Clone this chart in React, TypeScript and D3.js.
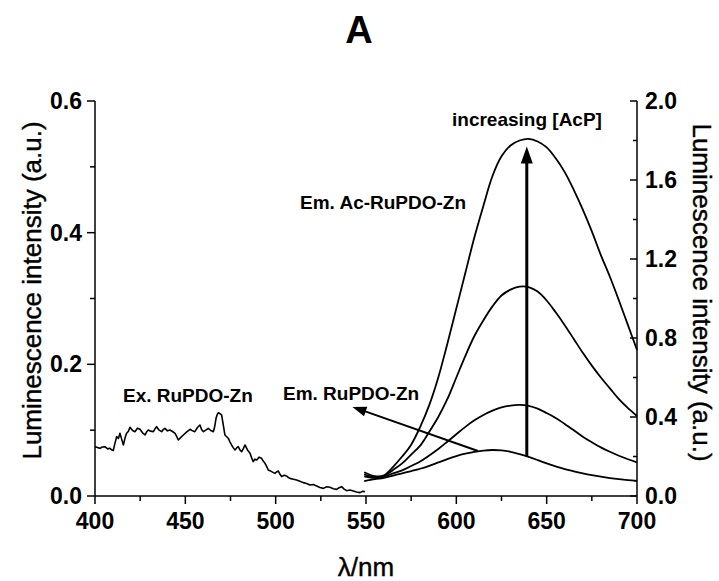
import React from "react";
import * as d3 from "d3";

// Excitation spectrum of RuPDO-Zn (left axis)
const exWavelength = [
  400, 401.5, 402.8, 404, 405.5, 407, 408.3, 409.2, 410.1, 411, 412, 413, 413.8, 414.8, 415.7, 416.6, 417.5, 418.5, 419.4,
  420.8, 422.1, 423.5, 424.9, 426.3, 427.7, 428.6, 429.5, 430.9, 432.3, 433.2, 434.1, 435.5, 436.9, 437.8, 438.7, 440.1,
  441.5, 442.9, 444.3, 445.2, 446.1, 447.5, 448.9, 450.8, 452.6, 454, 455.3, 456.7, 458.1, 459, 460, 461.3, 462.7, 464.1,
  465.5, 466.3, 467, 467.7, 468.3, 469.2, 470.1, 471, 471.9, 472.9, 473.8, 474.7, 475.6, 476.5, 477.5, 478.4, 479.3, 480.2,
  481.2, 482.1, 483, 484.4, 485.8, 486.7, 487.6, 488.5, 489.5, 490.8, 492.2, 493.1, 494.1, 495, 495.9, 496.8, 497.8, 498.7,
  499.6, 500.5, 501.5, 502.4, 503.3, 504.7, 506.1, 507, 507.9, 509.8, 511.6, 513.4, 515.3, 517.1, 519, 520.8, 522.7, 524.5,
  526.4, 528.2, 530, 531.9, 533.7, 535.1, 536.5, 537.9, 539.3, 541.1, 543, 544.8, 546.7, 548, 549.4,
];
const exIntensity = [
  0.0749, 0.0735, 0.0724, 0.0745, 0.0749, 0.0716, 0.0724, 0.0702, 0.0689, 0.0795, 0.0901, 0.0875, 0.0952, 0.086, 0.0775,
  0.088, 0.0952, 0.0985, 0.1043, 0.0995, 0.0977, 0.103, 0.1013, 0.096, 0.0927, 0.0975, 0.1003, 0.0985, 0.0977, 0.102,
  0.1053, 0.1, 0.0977, 0.101, 0.1028, 0.099, 0.1003, 0.098, 0.0952, 0.0905, 0.0851, 0.089, 0.0927, 0.0975, 0.1013,
  0.099, 0.0977, 0.104, 0.1078, 0.101, 0.0977, 0.1, 0.1028, 0.0995, 0.0977, 0.106, 0.118, 0.124, 0.1266, 0.125,
  0.123, 0.108, 0.0927, 0.09, 0.0876, 0.082, 0.0775, 0.0735, 0.0699, 0.073, 0.0749, 0.07, 0.0673, 0.072, 0.0775,
  0.07, 0.0648, 0.058, 0.0522, 0.056, 0.0547, 0.059, 0.0572, 0.053, 0.0496, 0.045, 0.0395, 0.0385, 0.037, 0.0355,
  0.0344, 0.0365, 0.038, 0.033, 0.0294, 0.0315, 0.0304, 0.028, 0.0268, 0.0255, 0.0243, 0.0225, 0.0203, 0.019, 0.0167,
  0.0175, 0.0152, 0.013, 0.0116, 0.014, 0.0132, 0.011, 0.0101, 0.0125, 0.0142, 0.0105, 0.0081, 0.009, 0.0076, 0.006,
  0.0051, 0.007, 0.0066,
];

// Emission spectra (right axis): RuPDO-Zn and increasing [AcP]
const emWavelength = [
  549, 555, 560, 565, 570, 575, 580, 585, 590, 595, 600, 605, 610, 615, 620, 625, 630, 635, 640, 645, 650, 655, 660, 665,
  670, 675, 680, 685, 690, 695, 700,
];
const emRuPDO = [
  0.075, 0.085, 0.092, 0.103, 0.115, 0.126, 0.138, 0.153, 0.17, 0.187, 0.202, 0.214, 0.223, 0.23, 0.233, 0.231, 0.224,
  0.212, 0.198, 0.182, 0.165, 0.15, 0.136, 0.125, 0.115, 0.106, 0.098, 0.091, 0.085, 0.08, 0.076,
];
const emAcP1 = [
  0.1, 0.092, 0.097, 0.115, 0.13, 0.152, 0.175, 0.205, 0.238, 0.275, 0.313, 0.35, 0.383, 0.41, 0.432, 0.449, 0.458,
  0.461, 0.456, 0.442, 0.42, 0.395, 0.365, 0.333, 0.3, 0.272, 0.246, 0.224, 0.204, 0.186, 0.17,
];
const emAcP2 = [
  0.11, 0.095, 0.1, 0.132, 0.165, 0.21, 0.255, 0.325, 0.4, 0.49, 0.6, 0.71, 0.81, 0.89, 0.96, 1.015, 1.045, 1.06, 1.058,
  1.035, 0.99, 0.93, 0.865, 0.795, 0.725, 0.66, 0.6, 0.545, 0.49, 0.445, 0.405,
];
const emAcP3 = [
  0.12, 0.1, 0.105, 0.148, 0.2, 0.26, 0.35, 0.46, 0.6, 0.77, 0.95, 1.13, 1.31, 1.47, 1.62, 1.72, 1.775, 1.8, 1.808,
  1.795, 1.765, 1.71, 1.64, 1.55, 1.45, 1.34, 1.22, 1.11, 0.99, 0.865, 0.74,
];

// Axis ticks
const xMajor = [400, 450, 500, 550, 600, 650, 700];
const xMinor = [425, 475, 525, 575, 625, 675];
const yLeftMajor = [0, 0.2, 0.4, 0.6];
const yLeftMinor = [0.1, 0.3, 0.5];
const yRightMajor = [0, 0.4, 0.8, 1.2, 1.6, 2.0];
const yRightMinor = [0.2, 0.6, 1.0, 1.4, 1.8];

// Arrows: [wavelength, right-axis value]
const acpArrow: [number, number][] = [
  [639, 0.2],
  [639, 1.77],
];
const emArrow: [number, number][] = [
  [612, 0.228],
  [542.5, 0.451],
];

const FONT = "Arial, 'Liberation Sans', sans-serif";

export default function App() {
  const W = 719;
  const H = 581;
  const left = 95;
  const right = 637;
  const top = 101;
  const bottom = 496;

  const x = d3.scaleLinear().domain([400, 700]).range([left, right]);
  const yL = d3.scaleLinear().domain([0, 0.6]).range([bottom, top]);
  const yR = d3.scaleLinear().domain([0, 2.0]).range([bottom, top]);

  const exLine = d3
    .line<number>()
    .x((_, i) => x(exWavelength[i]))
    .y((d) => yL(d));

  const emLine = d3
    .line<number>()
    .x((_, i) => x(emWavelength[i]))
    .y((d) => yR(d))
    .curve(d3.curveCatmullRom.alpha(0.5));

  const arrow = (pts: [number, number][], width: number, headLen: number, headHalf: number) => {
    const [x0, y0] = [x(pts[0][0]), yR(pts[0][1])];
    const [x1, y1] = [x(pts[1][0]), yR(pts[1][1])];
    const dx = x1 - x0;
    const dy = y1 - y0;
    const len = Math.hypot(dx, dy);
    const ux = dx / len;
    const uy = dy / len;
    const bx = x1 - ux * headLen;
    const by = y1 - uy * headLen;
    const px = -uy;
    const py = ux;
    const head = `M${x1},${y1}L${bx + px * headHalf},${by + py * headHalf}L${bx - px * headHalf},${by - py * headHalf}Z`;
    return (
      <g>
        <line x1={x0} y1={y0} x2={bx + ux * 2} y2={by + uy * 2} stroke="#000" strokeWidth={width} />
        <path d={head} fill="#000" />
      </g>
    );
  };

  const tickFont = { fontFamily: FONT, fontWeight: 700, fontSize: 23 };
  const noteFont = { fontFamily: FONT, fontWeight: 700, fontSize: 19 };
  const titleFont = { fontFamily: FONT, fontSize: 26 };

  return (
    <svg width={W} height={H} style={{ position: "absolute", left: 0, top: 0, background: "#fff" }}>
      <rect width={W} height={H} fill="#fff" />
      <text x={359} y={43} textAnchor="middle" style={{ fontFamily: FONT, fontWeight: 700, fontSize: 38 }}>
        A
      </text>

      {/* curves */}
      <path d={exLine(exIntensity) || ""} fill="none" stroke="#000" strokeWidth={1.6} strokeLinejoin="round" />
      {[emRuPDO, emAcP1, emAcP2, emAcP3].map((s, i) => (
        <path key={i} d={emLine(s) || ""} fill="none" stroke="#000" strokeWidth={1.8} />
      ))}

      {/* arrows */}
      {arrow(acpArrow, 3, 17, 6)}
      {arrow(emArrow, 2, 14, 5)}

      {/* axes */}
      <g stroke="#000" strokeWidth={1.5}>
        <line x1={left} y1={bottom} x2={right} y2={bottom} />
        <line x1={left} y1={top} x2={left} y2={bottom} />
        <line x1={right} y1={top} x2={right} y2={bottom} />
        {xMajor.map((v) => (
          <line key={"xM" + v} x1={x(v)} x2={x(v)} y1={bottom} y2={bottom + 8} />
        ))}
        {xMinor.map((v) => (
          <line key={"xm" + v} x1={x(v)} x2={x(v)} y1={bottom} y2={bottom + 5} />
        ))}
        {yLeftMajor.map((v) => (
          <line key={"lM" + v} x1={left - 8} x2={left} y1={yL(v)} y2={yL(v)} />
        ))}
        {yLeftMinor.map((v) => (
          <line key={"lm" + v} x1={left - 5} x2={left} y1={yL(v)} y2={yL(v)} />
        ))}
        {yRightMajor.map((v) => (
          <line key={"rM" + v} x1={right - 7} x2={right} y1={yR(v)} y2={yR(v)} />
        ))}
        {yRightMinor.map((v) => (
          <line key={"rm" + v} x1={right - 4} x2={right} y1={yR(v)} y2={yR(v)} />
        ))}
      </g>

      {xMajor.map((v) => (
        <text key={"xl" + v} x={x(v)} y={bottom + 33} textAnchor="middle" style={tickFont}>
          {v}
        </text>
      ))}
      {yLeftMajor.map((v) => (
        <text key={"ll" + v} x={left - 13} y={yL(v) + 8} textAnchor="end" style={tickFont}>
          {v.toFixed(1)}
        </text>
      ))}
      {yRightMajor.map((v) => (
        <text key={"rl" + v} x={right + 8} y={yR(v) + 8} textAnchor="start" style={tickFont}>
          {v.toFixed(1)}
        </text>
      ))}

      {/* axis titles */}
      <text x={366} y={576} textAnchor="middle" stroke="#000" strokeWidth={0.4} style={titleFont}>
        λ/nm
      </text>
      <text
        transform={`translate(41,${(top + bottom) / 2 - 8}) rotate(-90)`}
        textAnchor="middle"
        stroke="#000"
        strokeWidth={0.4}
        style={titleFont}
      >
        Luminescence intensity (a.u.)
      </text>
      <text
        transform={`translate(693,${(top + bottom) / 2 - 6}) rotate(90)`}
        textAnchor="middle"
        stroke="#000"
        strokeWidth={0.4}
        style={titleFont}
      >
        Luminescence intensity (a.u.)
      </text>

      {/* annotations */}
      <text x={452} y={126} style={noteFont}>
        increasing [AcP]
      </text>
      <text x={300} y={209} style={noteFont}>
        Em. Ac-RuPDO-Zn
      </text>
      <text x={283} y={400} style={noteFont}>
        Em. RuPDO-Zn
      </text>
      <text x={123} y={402} style={noteFont}>
        Ex. RuPDO-Zn
      </text>
    </svg>
  );
}
